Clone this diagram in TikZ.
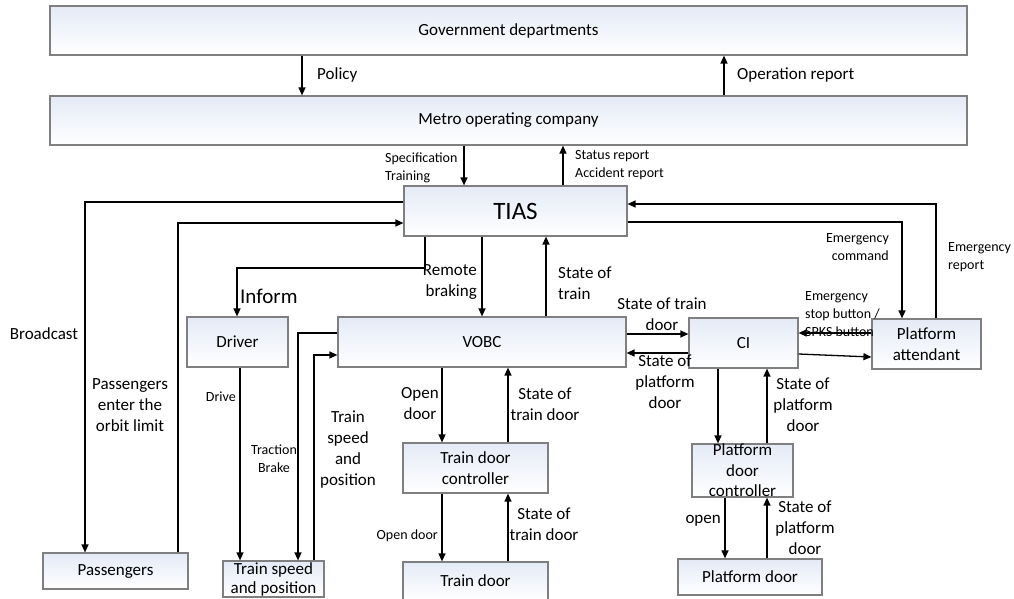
\documentclass[tikz,border=0pt]{standalone}
\usepackage{fontspec}
\setmainfont{Carlito}
\usepackage{xcolor}
\usetikzlibrary{arrows.meta}
\definecolor{boxline}{HTML}{7F7F7F}
\definecolor{boxtop}{HTML}{E4EAF6}

\begin{document}
\begin{tikzpicture}[x=1pt,y=-1pt,
  box/.style={draw=boxline,line width=1.2pt,top color=boxtop,bottom color=white,
    rectangle,inner sep=1pt,align=center,font=\fontsize{17}{20.5}\selectfont},
  arr/.style={-{Triangle[length=8pt,width=7pt]},line width=1.3pt},
  lbl/.style={inner sep=0pt,align=center,font=\fontsize{17}{21}\selectfont},
  sml/.style={inner sep=0pt,align=center,font=\fontsize{14}{18}\selectfont}]
\useasboundingbox (0,0) rectangle (1014,598);
% boxes
\node[box,minimum width=917pt,minimum height=49pt] (gov) at (508.5,30.5) {Government departments};
\node[box,minimum width=917pt,minimum height=49pt] (metro) at (508.5,120.5) {Metro operating company};
\node[box,minimum width=223pt,minimum height=50pt,font=\fontsize{25}{28}\selectfont] (tias) at (515.5,211) {TIAS};
\node[box,minimum width=101pt,minimum height=50pt] (driver) at (237.5,342) {Driver};
\node[box,minimum width=288pt,minimum height=50pt] (vobc) at (482,342) {VOBC};
\node[box,minimum width=109pt,minimum height=50pt] (ci) at (743.5,343) {CI};
\node[box,minimum width=109pt,minimum height=50pt] (attendant) at (926.5,344) {Platform\\attendant};
\node[box,minimum width=145pt,minimum height=36pt] (passengers) at (115.5,571) {Passengers};
\node[box,minimum width=101pt,minimum height=36pt,inner sep=0pt,
  font=\fontsize{17}{19}\selectfont] (tsp) at (273.5,579) {Train speed\\and position};
\node[box,minimum width=145pt,minimum height=50pt] (tdc) at (475.5,468) {Train door\\controller};
\node[box,minimum width=145pt,minimum height=38pt] (traindoor) at (475.5,581) {Train door};
\node[box,minimum width=101pt,minimum height=53pt,inner sep=0pt] (pdc) at (742.5,470.5) {Platform\\door\\controller};
\node[box,minimum width=144pt,minimum height=36pt] (platdoor) at (750,577) {Platform door};

% top level
\draw[arr] (302,0 |- gov.south) -- (302,0 |- metro.north);
\draw[arr] (724,0 |- metro.north) -- (724,0 |- gov.south);
\node[lbl,anchor=west] (policy) at (317,75) {Policy};
\node[lbl,anchor=west] (opreport) at (737,75) {Operation report};
\draw[arr] (464,0 |- metro.south) -- (464,0 |- tias.north);
\draw[arr] (563,0 |- tias.north) -- (563,0 |- metro.south);
\node[sml,anchor=west,align=left] (spec) at (385,168) {Specification\\Training};
\node[sml,anchor=west,align=left] (status) at (575,165) {Status report\\Accident report};

% TIAS and passengers
\draw[arr] (tias.west |- 0,202) -- (85,202) -- (85,0 |- passengers.north);
\draw[arr] (178,0 |- passengers.north) -- (178,223) -- (tias.west |- 0,223);
\node[lbl] (broadcast) at (44,334) {Broadcast};
\node[lbl] (enter) at (130,405) {Passengers\\enter the\\orbit limit};

% TIAS to driver and VOBC
\draw[arr] (425,0 |- tias.south) -- (425,268) -- (237,268) -- (237,0 |- driver.north);
\node[lbl,anchor=west,font=\fontsize{21}{24}\selectfont] (inform) at (240,296) {Inform};
\draw[arr] (482,0 |- tias.south) -- (482,0 |- vobc.north);
\node[lbl,anchor=east,align=right] (remote) at (477,282) {Remote\\braking};
\draw[arr] (546,0 |- vobc.north) -- (546,0 |- tias.south);
\node[lbl,anchor=west,align=left] (stateoftrain) at (558,283) {State of\\train};

% VOBC and CI
\draw[arr] (vobc.east |- 0,334) -- (ci.west |- 0,334);
\node[lbl] (stdoor) at (662,314) {State of train\\door};
\draw[arr] (ci.west |- 0,353) -- (vobc.east |- 0,353);
\node[lbl] (spdoor) at (665,382) {State of\\platform\\door};

% CI and platform attendant
\draw[arr] (attendant.west |- 0,333) -- (ci.east |- 0,333);
\node[sml,anchor=west,align=left] (estop) at (805,314) {Emergency\\stop button /\\SPKS button};
\draw[arr] (ci.east |- 0,354) -- (attendant.west |- 0,357);
\draw[arr] (tias.east |- 0,222) -- (902,222) -- (902,0 |- attendant.north);
\node[sml,anchor=east,align=right] (ecommand) at (889,247) {Emergency\\command};
\draw[arr] (936,0 |- attendant.north) -- (936,204) -- (tias.east |- 0,204);
\node[sml,anchor=west,align=left] (ereport) at (948,257) {Emergency\\report};

% driver, VOBC and train speed
\draw[arr] (240,0 |- driver.south) -- (240,0 |- tsp.north);
\node[sml,anchor=east] (drive) at (236,397) {Drive};
\draw[arr] (vobc.west |- 0,333) -- (298,333) -- (298,0 |- tsp.north);
\node[sml] (traction) at (274,459) {Traction\\Brake};
\draw[arr] (314,0 |- tsp.north) -- (314,355) -- (vobc.west |- 0,355);
\node[lbl] (tspeed) at (348,450) {Train\\speed\\and\\position};

% train door
\draw[arr] (442,0 |- vobc.south) -- (442,0 |- tdc.north);
\node[lbl] (opendoor) at (420,404) {Open\\door};
\draw[arr] (508,0 |- tdc.north) -- (508,0 |- vobc.south);
\node[lbl] (stdoora) at (545,404) {State of\\train door};
\draw[arr] (442,0 |- tdc.south) -- (442,0 |- traindoor.north);
\node[sml,anchor=east] (opendoorb) at (438,536) {Open door};
\draw[arr] (508,0 |- traindoor.north) -- (508,0 |- tdc.south);
\node[lbl] (stdoorb) at (544,524) {State of\\train door};

% platform door
\draw[arr] (718,0 |- ci.south) -- (718,0 |- pdc.north);
\draw[arr] (767,0 |- pdc.north) -- (767,0 |- ci.south);
\node[lbl] (spdoora) at (803,405) {State of\\platform\\door};
\draw[arr] (725,0 |- pdc.south) -- (725,0 |- platdoor.north);
\node[lbl,anchor=east] (open) at (721,521) {open};
\draw[arr] (767,0 |- platdoor.north) -- (767,0 |- pdc.south);
\node[lbl] (spdoorb) at (805,528) {State of\\platform\\door};
\end{tikzpicture}
\end{document}
